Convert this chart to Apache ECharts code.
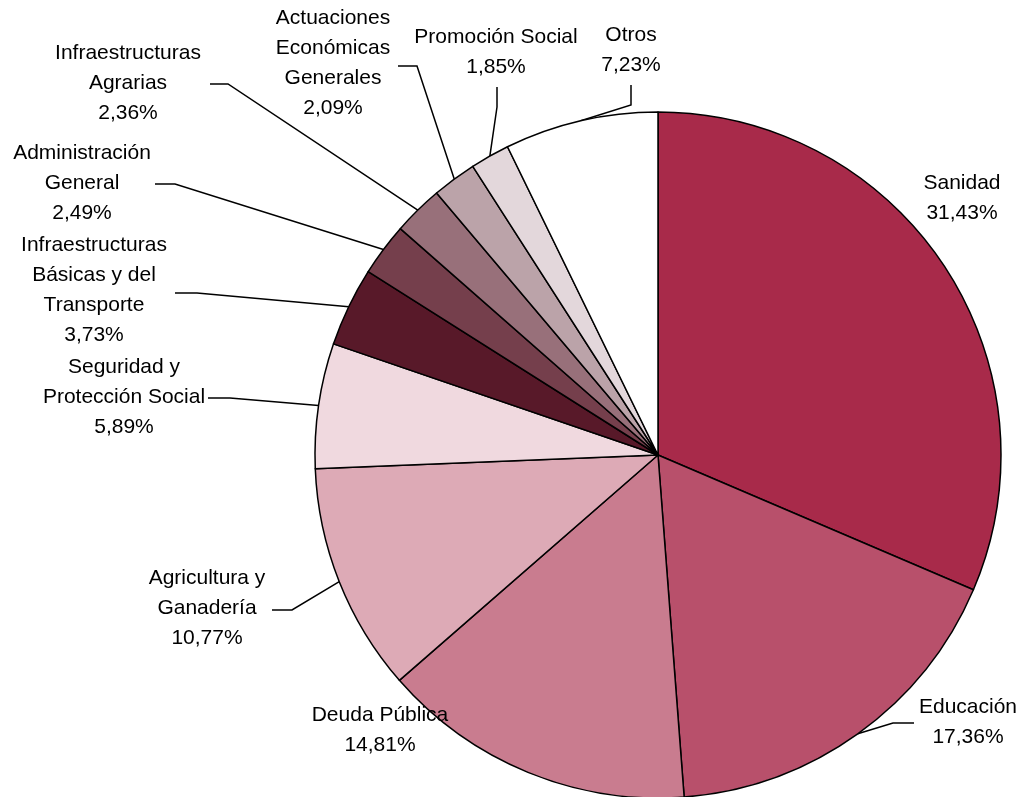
<!DOCTYPE html>
<html>
<head>
<meta charset="utf-8">
<script src="https://cdn.jsdelivr.net/npm/echarts@6/dist/echarts.min.js"></script>
<style>
html,body{margin:0;padding:0;background:#fff;}
#chart{width:1021px;height:797px;}
</style>
</head>
<body>
<div id="chart"></div>
<script>
// ---- data ----
var categories = [
  'Sanidad',
  'Educación',
  'Deuda Pública',
  'Agricultura y\nGanadería',
  'Seguridad y\nProtección Social',
  'Infraestructuras\nBásicas y del\nTransporte',
  'Administración\nGeneral',
  'Infraestructuras\nAgrarias',
  'Actuaciones\nEconómicas\nGenerales',
  'Promoción Social',
  'Otros'
];
var values = [31.43, 17.36, 14.81, 10.77, 5.89, 3.73, 2.49, 2.36, 2.09, 1.85, 7.23];

// ---- styles / layout (not data) ----
var colors = ['#A82A4A', '#B8506B', '#C97C8F', '#DDAAB6', '#F0D9DF', '#581929', '#753F4C', '#98707A', '#BBA3A9', '#E3D7DB', '#FFFFFF'];
// label block centre and leader elbow points
var labelPos = [
  {x: 962, y: 198, line: null},
  {x: 968, y: 722, line: [[893, 723], [914, 723]]},
  {x: 380, y: 730, line: null},
  {x: 207, y: 608, line: [[292, 610], [272, 610]]},
  {x: 124, y: 397, line: [[230, 398], [208, 398]]},
  {x: 94,  y: 290, line: [[197, 293], [175, 293]]},
  {x: 82,  y: 183, line: [[175, 184], [155, 184]]},
  {x: 128, y: 83,  line: [[228, 84], [210, 84]]},
  {x: 333, y: 63,  line: [[417, 66], [398, 66]]},
  {x: 496, y: 52,  line: [[497, 107], [497, 87]]},
  {x: 631, y: 50,  line: [[631, 105], [631, 85]]}
];

var CX = 658, CY = 455, R = 343;

function fmt(v) { return v.toFixed(2).replace('.', ',') + '%'; }

var total = values.reduce(function (a, b) { return a + b; }, 0);
function edgePoint(idx) {
  var before = 0;
  for (var i = 0; i < idx; i++) before += values[i];
  var mid = (before + values[idx] / 2) / total * Math.PI * 2;
  return [CX + R * Math.sin(mid), CY - R * Math.cos(mid)];
}

var pieData = categories.map(function (c, i) {
  return {
    name: c,
    value: values[i],
    itemStyle: {color: colors[i]},
    labelLine: {show: !!labelPos[i].line}
  };
});

var chart = echarts.init(document.getElementById('chart'), null, {renderer: 'canvas'});
chart.setOption({
  backgroundColor: '#ffffff',
  animation: false,
  series: [{
    type: 'pie',
    center: [CX, CY],
    radius: [0, R],
    startAngle: 90,
    clockwise: true,
    avoidLabelOverlap: false,
    emphasis: {disabled: true},
    itemStyle: {borderColor: '#000', borderWidth: 1.5},
    label: {
      show: true,
      position: 'outside',
      fontFamily: 'Liberation Sans, Arial, sans-serif',
      fontSize: 21,
      lineHeight: 30,
      color: '#000',
      align: 'center',
      formatter: function (p) { return p.name + '\n' + fmt(p.value); }
    },
    labelLine: {
      show: true,
      length: 10,
      length2: 10,
      lineStyle: {color: '#000', width: 1.5}
    },
    labelLayout: function (params) {
      var i = params.dataIndex;
      var lp = labelPos[i];
      var out = {x: lp.x, y: lp.y, align: 'center', verticalAlign: 'middle', hideOverlap: false};
      if (lp.line) {
        var start = (params.labelLinePoints && params.labelLinePoints[0]) ? params.labelLinePoints[0] : edgePoint(i);
        out.labelLinePoints = [start, lp.line[0], lp.line[1]];
      }
      return out;
    },
    data: pieData
  }]
});
</script>
</body>
</html>
